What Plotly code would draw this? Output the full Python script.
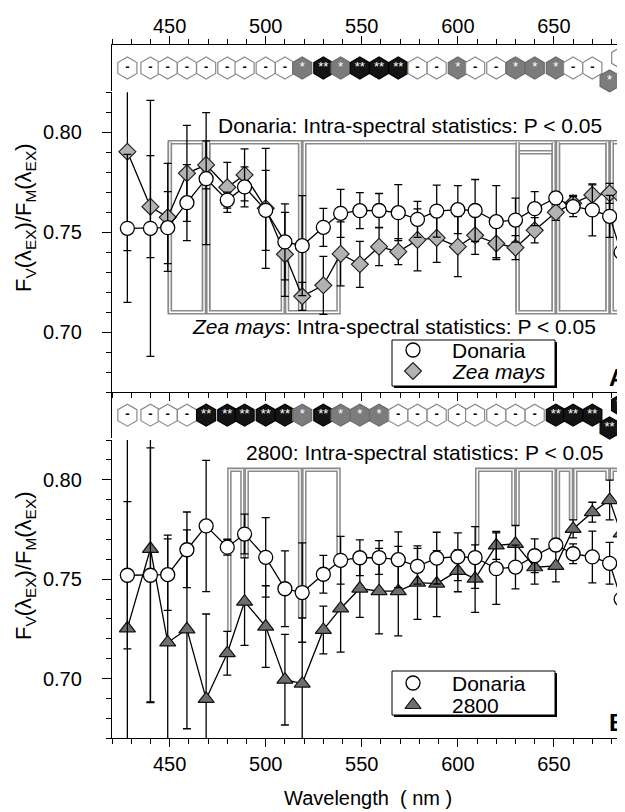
import plotly.graph_objects as go

# ---------------- data ----------------
wavelength = [428, 440, 449, 459, 469, 480, 489, 500, 510, 519, 530, 539, 549, 559,
              569, 579, 589, 600, 609, 620, 630, 640, 651, 660, 670, 679, 685]

donaria = [0.7520, 0.7520, 0.7523, 0.7648, 0.7768, 0.7661, 0.7727, 0.7610, 0.7452, 0.7433,
           0.7525, 0.7595, 0.7608, 0.7609, 0.7598, 0.7565, 0.7606, 0.7613, 0.7609, 0.7553,
           0.7561, 0.7618, 0.7672, 0.7628, 0.7612, 0.7580, 0.7400]
donaria_err = [0.037, 0.064, 0.018, 0.019, 0.033, 0.004, 0.010, 0.020, 0.019, 0.025,
               0.0095, 0.012, 0.009, 0.0085, 0.014, 0.009, 0.013, 0.012, 0.0155, 0.018,
               0.011, 0.0085, 0.003, 0.005, 0.013, 0.0105, 0.021]

zea_mays = [0.7903, 0.7628, 0.7575, 0.7795, 0.7837, 0.7725, 0.7787, 0.7620, 0.7390, 0.7180,
            0.7235, 0.7392, 0.7340, 0.7428, 0.7403, 0.7462, 0.7472, 0.7428, 0.7485, 0.7444,
            0.7423, 0.7510, 0.7600, 0.7645, 0.7687, 0.7695, 0.7680]
zea_err = [0.0495, 0.0255, 0.027, 0.024, 0.012, 0.0125, 0.013, 0.030, 0.021, 0.007,
           0.0145, 0.016, 0.0115, 0.0095, 0.0065, 0.0155, 0.0122, 0.015, 0.0095, 0.008,
           0.006, 0.0063, 0.004, 0.004, 0.005, 0.005, 0.008]

line2800 = [0.7253, 0.7653, 0.7182, 0.7248, 0.6898, 0.7128, 0.7387, 0.7262, 0.6995, 0.6975,
            0.7245, 0.7353, 0.7453, 0.7440, 0.7440, 0.7483, 0.7478, 0.7542, 0.7503, 0.7670,
            0.7678, 0.7560, 0.7567, 0.7753, 0.7837, 0.7898, 0.7730]
line2800_err = [0.100, 0.077, 0.054, 0.050, 0.0427, 0.011, 0.022, 0.0205, 0.0228, 0.033,
                0.012, 0.022, 0.0145, 0.0215, 0.0225, 0.0185, 0.0166, 0.0105, 0.017, 0.007,
                0.0092, 0.0085, 0.008, 0.0045, 0.005, 0.010, 0.005]

# inter-line significance per wavelength: 0 = n.s. ("-"), 1 = "*", 2 = "**"
sig_donaria_vs_zea = [0, 0, 0, 0, 0, 0, 0, 0, 0, 1, 2, 1, 2, 2, 2, 0, 0, 1, 0, 0,
                      1, 1, 1, 0, 0, 1, 0]
sig_donaria_vs_2800 = [0, 0, 0, 0, 2, 2, 2, 2, 2, 1, 2, 1, 1, 1, 0, 0, 0, 0, 0, 0,
                       0, 0, 2, 2, 2, 2, 2]

# intra-spectral statistics groups: (start index, end index, leg type start, leg type end)
# end index None = group continues past the axis
groups_donaria_top = [(2, 4, "full", "full"), (4, 9, "full", "full"), (9, 22, "full", "point"),
                      (22, 25, "full", "full"), (25, None, "full", None)]
groups_donaria_inner = [(20, 22, "full", "full")]
groups_zea_bottom = [(2, 4, "full", "full"), (4, 8, "full", "point"), (8, 11, "point", "point"),
                     (20, 22, "full", "full"), (22, 25, "full", "full"), (25, None, "full", None)]
groups_2800_top = [(5, 6), (6, 9), (9, 11), (18, 20), (20, 22), (22, 23), (23, 25), (25, None)]

x_ticks_major = [450, 500, 550, 600, 650]
y_ticks_major = [0.70, 0.75, 0.80]

# ---------------- layout helpers (reference pixel -> paper) ----------------
OX, OY = 8, 8                  # page body margin of the html page
W, H = 625 - OX, 812 - OY
X_RANGE = [420, 687]
Y_RANGE = [0.67, 0.82]
FONT = "Liberation Sans"
FS = 20


def fx(px):
    return (px - OX) / W


def fy(py):
    return 1 - (py - OY) / H


def ydom(top_px, bot_px):
    return [fy(bot_px), fy(top_px)]


X_DOM = [fx(112), 1.0]

fig = go.Figure()

# ---------------- brackets ----------------
D = 1.1  # leg offset from the data wavelength (nm)
TOP_A, INNER_A, BOT_A, TOP_B = 0.795, 0.790, 0.710, 0.805


def add_bracket(xa, ya, i0, i1, level, end0, end1):
    x0 = wavelength[i0] + D
    if i1 is None:
        xs = [x0, x0, X_RANGE[1] + 10]
        ys = [end0, level, level]
    else:
        x1 = wavelength[i1] - D
        xs = [x0, x0, x1, x1]
        ys = [end0, level, level, end1]
    for col, w in (("#8a8a8a", 4.5), ("#ffffff", 1.4)):
        fig.add_trace(go.Scatter(x=xs, y=ys, mode="lines", xaxis=xa, yaxis=ya,
                                 line=dict(color=col, width=w), showlegend=False,
                                 hoverinfo="skip"))


def leg_end(kind, i, series, full_level):
    if kind is None:
        return None
    return series[i] if kind == "point" else full_level


for (i0, i1, k0, k1) in groups_donaria_top:
    add_bracket("x", "y", i0, i1, TOP_A, leg_end(k0, i0, donaria, BOT_A),
                leg_end(k1, i1, donaria, BOT_A))
for (i0, i1, k0, k1) in groups_donaria_inner:
    add_bracket("x", "y", i0, i1, INNER_A, leg_end(k0, i0, donaria, BOT_A),
                leg_end(k1, i1, donaria, BOT_A))
for (i0, i1, k0, k1) in groups_zea_bottom:
    add_bracket("x", "y", i0, i1, BOT_A, leg_end(k0, i0, zea_mays, TOP_A),
                leg_end(k1, i1, zea_mays, TOP_A))

bar_top_2800 = [v + e for v, e in zip(line2800, line2800_err)]
for (i0, i1) in groups_2800_top:
    add_bracket("x2", "y2", i0, i1, TOP_B, bar_top_2800[i0],
                bar_top_2800[i1] if i1 is not None else None)

# ---------------- data series ----------------
LW = 1.3
err_style = dict(type="data", color="black", thickness=LW, width=4)
m_donaria = dict(symbol="circle", size=14, color="white", line=dict(color="black", width=1.3))
m_zea = dict(symbol="diamond", size=13, color="#b2b2b2", line=dict(color="#222", width=1.2))
m_2800 = dict(symbol="triangle-up", size=14, color="#6e6e6e", line=dict(color="#111", width=1.2))

fig.add_trace(go.Scatter(
    x=wavelength, y=zea_mays, name="Zea mays", mode="lines+markers",
    xaxis="x", yaxis="y", showlegend=False,
    line=dict(color="black", width=LW), marker=m_zea,
    error_y=dict(array=zea_err, **err_style)))
fig.add_trace(go.Scatter(
    x=wavelength, y=donaria, name="Donaria", mode="lines+markers",
    xaxis="x", yaxis="y", showlegend=False,
    line=dict(color="black", width=LW), marker=m_donaria,
    error_y=dict(array=donaria_err, **err_style)))

fig.add_trace(go.Scatter(
    x=wavelength, y=line2800, name="2800", mode="lines+markers",
    xaxis="x2", yaxis="y2", showlegend=False,
    line=dict(color="black", width=LW), marker=m_2800,
    error_y=dict(array=line2800_err, **err_style)))
fig.add_trace(go.Scatter(
    x=wavelength, y=donaria, name="Donaria", mode="lines+markers",
    xaxis="x2", yaxis="y2", showlegend=False,
    line=dict(color="black", width=LW), marker=m_donaria,
    error_y=dict(array=donaria_err, **err_style)))

# ---------------- hexagon significance strips ----------------
row_y = []
for i, wl in enumerate(wavelength):
    if i + 1 < len(wavelength) and wavelength[i + 1] - wl < 8:
        row_y.append(0.22)
    elif i > 0 and wl - wavelength[i - 1] < 8:
        row_y.append(0.72)
    else:
        row_y.append(0.5)

fills = {0: "white", 1: "#7c7c7c", 2: "#141414"}
edges = {0: "#8a8a8a", 1: "#6a6a6a", 2: "#000000"}
labels = {0: "<b>-</b>", 1: "*", 2: "**"}
tcols = {0: "black", 1: "white", 2: "white"}

for sig, xa, ya in ((sig_donaria_vs_zea, "x3", "y3"), (sig_donaria_vs_2800, "x4", "y4")):
    fig.add_trace(go.Scatter(
        x=wavelength, y=row_y, mode="markers+text", xaxis=xa, yaxis=ya,
        marker=dict(symbol="hexagon", size=22, color=[fills[s] for s in sig],
                    line=dict(color=[edges[s] for s in sig], width=1.2)),
        text=[labels[s] for s in sig], textposition="middle center",
        textfont=dict(family=FONT, size=13, color=[tcols[s] for s in sig]),
        cliponaxis=False, showlegend=False, hoverinfo="skip"))

# ---------------- keys (legend boxes, drawn in page pixels) ----------------
key_rows = [("Donaria", m_donaria, 350), ("<i>Zea mays</i>", m_zea, 371),
            ("Donaria", m_donaria, 683), ("2800", m_2800, 705)]
for box_top, box_bot in ((340, 386), (671, 715)):
    fig.add_shape(type="rect", xref="paper", yref="paper", x0=fx(394), x1=fx(557),
                  y0=fy(box_bot + 2), y1=fy(box_top + 2), fillcolor="black",
                  line=dict(width=0), layer="below")
    fig.add_shape(type="rect", xref="paper", yref="paper", x0=fx(392), x1=fx(555),
                  y0=fy(box_bot), y1=fy(box_top), fillcolor="white",
                  line=dict(color="black", width=1), layer="below")
for name, mk, ry in key_rows:
    fig.add_trace(go.Scatter(x=[413], y=[ry], mode="markers", xaxis="x5", yaxis="y5",
                             marker=mk, showlegend=False, hoverinfo="skip", cliponaxis=False))
    fig.add_annotation(text=name, x=fx(450), y=fy(ry), xref="paper", yref="paper",
                       xanchor="left", yanchor="middle", showarrow=False,
                       font=dict(family=FONT, size=21, color="black"))

# ---------------- axes ----------------
common_x = dict(range=X_RANGE, domain=X_DOM, showgrid=False, zeroline=False,
                showline=True, linecolor="black", linewidth=LW,
                ticks="outside", ticklen=8, tickwidth=LW, tickcolor="black",
                tickmode="array", tickvals=x_ticks_major,
                minor=dict(dtick=10, tick0=420, ticks="outside", ticklen=5,
                           tickwidth=1.1, tickcolor="black"),
                tickfont=dict(family=FONT, size=FS, color="black"),
                automargin=False)
common_y = dict(range=Y_RANGE, showgrid=False, zeroline=False,
                showline=True, linecolor="black", linewidth=LW,
                ticks="outside", ticklen=9, tickwidth=LW, tickcolor="black",
                tickmode="array", tickvals=y_ticks_major,
                ticktext=["%.2f" % v for v in y_ticks_major],
                minor=dict(dtick=0.01, tick0=0.67, ticks="outside", ticklen=5,
                           tickwidth=1.1, tickcolor="black"),
                tickfont=dict(family=FONT, size=FS, color="black"),
                ticklabelstandoff=16, automargin=False)
strip_y = dict(range=[0, 1], showgrid=False, zeroline=False, showline=True,
               linecolor="black", linewidth=LW, ticks="", showticklabels=False,
               automargin=False)

fig.update_layout(
    xaxis=dict(common_x, anchor="y", showticklabels=False),
    yaxis=dict(common_y, anchor="x", domain=ydom(92.3, 392.3)),
    xaxis2=dict(common_x, anchor="y2", showticklabels=True, ticklabelstandoff=0),
    yaxis2=dict(common_y, anchor="x2", domain=ydom(440, 738.3)),
    xaxis3=dict(common_x, anchor="y3", side="top", showticklabels=True, ticklabelstandoff=-5),
    yaxis3=dict(strip_y, anchor="x3", domain=ydom(45, 91)),
    xaxis4=dict(range=X_RANGE, domain=X_DOM, anchor="y4", visible=False),
    yaxis4=dict(strip_y, anchor="x4", domain=ydom(392.3, 438)),
    xaxis5=dict(range=[OX, 625], domain=[0, 1], anchor="y5", visible=False),
    yaxis5=dict(range=[812, OY], domain=[0, 1], anchor="x5", visible=False),
)

# ---------------- annotations ----------------
def px_ann(text, x, y, size=FS, **kw):
    kw.setdefault("xanchor", "center")
    kw.setdefault("yanchor", "middle")
    fig.add_annotation(text=text, x=fx(x), y=fy(y), xref="paper", yref="paper",
                       showarrow=False, font=dict(family=FONT, size=size, color="black"), **kw)


px_ann("Donaria: Intra-spectral statistics: P &lt; 0.05", 410, 125, size=21)
px_ann("<i>Zea mays</i>: Intra-spectral statistics: P &lt; 0.05", 394, 327, size=21)
px_ann("2800: Intra-spectral statistics: P &lt; 0.05", 424, 452, size=21)
px_ann("Wavelength  ( nm )", 368, 798)
ytitle = "F<sub>V</sub>(λ<sub>EX</sub>)/F<sub>M</sub>(λ<sub>EX</sub>)"
px_ann(ytitle, 25, 218, size=22, textangle=-90)
px_ann(ytitle, 25, 566, size=22, textangle=-90)
px_ann("<b>A</b>", 607, 378, size=24, xanchor="left")
px_ann("<b>B</b>", 607, 722, size=24, xanchor="left")

fig.update_layout(
    template="none", width=W, height=H, autosize=False,
    margin=dict(l=0, r=0, t=0, b=0, pad=0),
    paper_bgcolor="white", plot_bgcolor="rgba(0,0,0,0)",
    font=dict(family=FONT, size=FS, color="black"),
    showlegend=False,
)

fig.write_html("out.html")
